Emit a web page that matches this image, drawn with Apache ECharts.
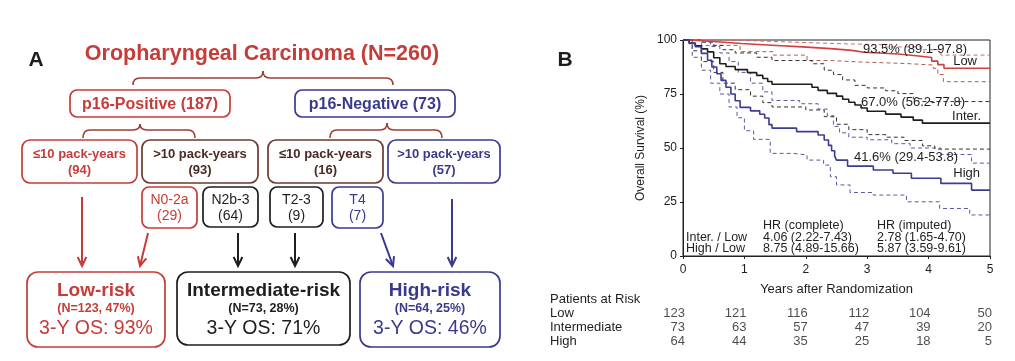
<!DOCTYPE html>
<html><head><meta charset="utf-8">
<script src="https://cdn.jsdelivr.net/npm/echarts@6/dist/echarts.min.js"></script>
<style>html,body{margin:0;padding:0;background:#fff}#c{width:1015px;height:361px}</style>
</head><body><div id="c"></div>
<script>
// ---------- Panel A texts ----------
const panelLabels = ['A', 'B'];
const titleText = 'Oropharyngeal Carcinoma (N=260)';
const level1 = ['p16-Positive (187)', 'p16-Negative (73)'];
const level2 = [['≤10 pack-years', '(94)'], ['>10 pack-years', '(93)'], ['≤10 pack-years', '(16)'], ['>10 pack-years', '(57)']];
const level3 = [['N0-2a', '(29)'], ['N2b-3', '(64)'], ['T2-3', '(9)'], ['T4', '(7)']];
const riskGroups = ['Low-risk', 'Intermediate-risk', 'High-risk'];
const riskN = ['(N=123, 47%)', '(N=73, 28%)', '(N=64, 25%)'];
const riskOS = ['3-Y OS: 93%', '3-Y OS: 71%', '3-Y OS: 46%'];

// ---------- Panel B data ----------
const xTicks = [0, 1, 2, 3, 4, 5];
const yTicks = [0, 25, 50, 75, 100];
const lowKM = [[0,100],[0.12,99.2],[0.55,98.4],[0.95,97.6],[1.45,96.8],[1.95,96.0],[2.4,95.2],[2.75,94.3],[2.95,93.5],[3.5,92.7],[3.8,91.9],[4.05,90.2],[4.15,88.6],[4.25,86.9],[5,86.9]];
const lowUpper = [[0,100],[0.6,99.6],[1.2,99.1],[1.7,98.6],[2.2,98.2],[2.7,97.8],[3.3,96.8],[3.9,95.5],[4.2,93.0],[5,93.0]];
const lowLower = [[0,100],[0.3,97.5],[0.93,94.6],[1.47,93.0],[2.02,90.5],[2.4,89.8],[2.9,89.1],[3.64,88.4],[4.08,86.9],[4.15,84.0],[4.24,80.7],[5,80.7]];
const interKM = [[0,100],[0.1,98.6],[0.2,97.3],[0.3,95.9],[0.4,94.5],[0.5,91.8],[0.6,89.0],[0.7,87.7],[0.85,86.3],[1.05,84.9],[1.2,83.6],[1.3,82.2],[1.38,80.8],[1.45,79.5],[2.1,78.1],[2.2,76.7],[2.35,75.3],[2.5,74.0],[2.6,72.6],[2.7,71.2],[2.8,69.9],[2.9,68.5],[3.0,67.0],[3.3,65.7],[3.55,64.3],[3.75,62.9],[3.9,61.5],[5,61.5]];
const interUpper = [[0,100],[0.3,99.0],[0.5,97.5],[0.65,95.5],[0.85,94.0],[1.2,92.0],[1.45,90.5],[2.1,89.0],[2.3,86.0],[2.45,84.0],[2.6,81.5],[2.8,79.0],[3.0,77.8],[3.3,76.5],[3.5,75.2],[3.75,72.8],[3.9,71.5],[5,71.5]];
const interLower = [[0,100],[0.15,95],[0.3,90],[0.5,85],[0.65,80],[0.85,77],[1.1,74],[1.3,71],[1.45,69],[2.0,67.6],[2.3,64.5],[2.5,61],[2.7,58.5],[3.0,56.2],[3.3,55],[3.6,53.5],[3.9,51],[4.1,49.5],[5,49.5]];
const highKM = [[0,100],[0.1,98.4],[0.2,96.9],[0.3,93.8],[0.4,90.6],[0.47,87.5],[0.55,84.4],[0.62,81.3],[0.7,78.1],[0.78,75.0],[0.85,71.9],[0.93,68.8],[1.1,67.2],[1.25,65.6],[1.33,63.9],[1.4,60.8],[1.45,59.2],[1.85,57.6],[2.2,56.0],[2.3,53.7],[2.37,51.2],[2.42,48.7],[2.47,46.2],[2.5,44.4],[2.68,41.6],[3.1,39.8],[3.42,38.3],[3.72,36.0],[4.2,33.6],[4.7,30.5],[5,30.5]];
const highUpper = [[0,100],[0.3,99],[0.45,97],[0.6,94],[0.75,90],[0.9,85],[1.1,80],[1.3,76],[1.45,72],[1.9,70.5],[2.2,68],[2.35,65],[2.45,60],[2.55,57],[2.7,55],[3.0,53.8],[3.4,52],[3.7,50],[4.2,47],[4.7,43],[5,43]];
const highLower = [[0,100],[0.15,92],[0.3,86],[0.45,80],[0.6,75],[0.75,69],[0.88,64],[1.0,58],[1.15,54],[1.42,47.5],[1.8,46.8],[2.02,44.4],[2.29,42.1],[2.4,36.7],[2.5,32.9],[2.72,29.4],[3.1,28.2],[3.64,25.1],[4.18,22],[4.67,19],[5,19]];
const curveLabels = [['93.5% (89.1-97.8)', 'Low'], ['67.0% (56.2-77.8)', 'Inter.'], ['41.6% (29.4-53.8)', 'High']];
const hrHeader = ['HR (complete)', 'HR (imputed)'];
const hrRows = [['Inter. / Low', '4.06 (2.22-7.43)', '2.78 (1.65-4.70)'], ['High / Low', '8.75 (4.89-15.66)', '5.87 (3.59-9.61)']];
const atRiskTitle = 'Patients at Risk';
const atRiskYears = [0, 1, 2, 3, 4, 5];
const riskRows = ['Low', 'Intermediate', 'High'];
const atRiskLow = [123, 121, 116, 112, 104, 50];
const atRiskInter = [73, 63, 57, 47, 39, 20];
const atRiskHigh = [64, 44, 35, 25, 18, 5];
const axisNames = ['Years after Randomization', 'Overall Survival (%)'];

// ---------- styles ----------
const RED = '#c63c38', BLUE = '#3a3a8c', DARK = '#1e1e1e', BROWN = '#4a2a22', BROWNB = '#6b3a2e', BRACE = '#9c3e34';
const FF = '"Liberation Sans", Arial, sans-serif';

function txt(x, y, text, size, color, weight, align) {
  align = align || 'center';
  return { type: 'text', x: x, y: y, z: 20, silent: true,
    style: { text: text, fontSize: size, fontWeight: weight || 'normal', fontFamily: FF, fill: color,
      align: align, verticalAlign: 'middle', textAlign: align, textVerticalAlign: 'middle' } };
}
function box(x, y, w, h, color, r) {
  return { type: 'rect', z: 10, silent: true, shape: { x: x, y: y, width: w, height: h, r: r || 8 },
    style: { fill: '#fff', stroke: color, lineWidth: 1.7 } };
}
function arrow(x1, y1, x2, y2, color) {
  const a = Math.atan2(y2 - y1, x2 - x1), L = 10, s = 0.45;
  return [
    { type: 'line', z: 10, silent: true, shape: { x1: x1, y1: y1, x2: x2, y2: y2 }, style: { stroke: color, lineWidth: 2 } },
    { type: 'polyline', z: 10, silent: true, shape: { points: [
      [x2 - L * Math.cos(a - s), y2 - L * Math.sin(a - s)], [x2, y2], [x2 - L * Math.cos(a + s), y2 - L * Math.sin(a + s)]] },
      style: { stroke: color, lineWidth: 2, fill: null } }
  ];
}
function brace(x1, x2, cx, yb, yp, ye, color) {
  const st = { stroke: color, lineWidth: 1.6, fill: null };
  const r = 7;
  const mk = (sh) => ({ type: 'bezierCurve', z: 10, silent: true, shape: sh, style: st });
  return [
    mk({ x1: x1, y1: ye, cpx1: x1, cpy1: yb, x2: x1 + r, y2: yb }),
    { type: 'line', z: 10, silent: true, shape: { x1: x1 + r, y1: yb, x2: cx - r, y2: yb }, style: st },
    mk({ x1: cx - r, y1: yb, cpx1: cx, cpy1: yb, x2: cx, y2: yp }),
    mk({ x1: cx, y1: yp, cpx1: cx, cpy1: yb, x2: cx + r, y2: yb }),
    { type: 'line', z: 10, silent: true, shape: { x1: cx + r, y1: yb, x2: x2 - r, y2: yb }, style: st },
    mk({ x1: x2 - r, y1: yb, cpx1: x2, cpy1: yb, x2: x2, y2: ye })
  ];
}

const G = [];
// Panel labels
G.push(txt(36, 60, panelLabels[0], 21, DARK, 'bold'));
G.push(txt(565, 60, panelLabels[1], 21, DARK, 'bold'));
// Title + braces
G.push(txt(262, 54, titleText, 21.5, RED, 'bold'));
G.push(...brace(133, 393, 263, 78, 71, 85, BRACE));
// Level 1
const l1Box = [[70, 90, 160, 27, RED], [295, 90, 160, 27, BLUE]];
level1.forEach((t, i) => { const b = l1Box[i]; G.push(box(b[0], b[1], b[2], b[3], b[4], 7)); G.push(txt(b[0] + b[2] / 2, b[1] + b[3] / 2 + 1, t, 16, b[4], 'bold')); });
G.push(...brace(83, 195, 140, 130, 124, 138, BRACE));
G.push(...brace(330, 442, 387, 130, 123, 138, BRACE));
// Level 2
const l2Box = [[22, 140, 115, 43, RED, RED], [142, 140, 116, 43, BROWNB, BROWN], [268, 140, 115, 43, BROWNB, BROWN], [388, 140, 112, 43, BLUE, BLUE]];
level2.forEach((t, i) => { const b = l2Box[i]; G.push(box(b[0], b[1], b[2], b[3], b[4], 8));
  G.push(txt(b[0] + b[2] / 2, 154, t[0], 13, b[5], 'bold')); G.push(txt(b[0] + b[2] / 2, 170, t[1], 13, b[5], 'bold')); });
// Level 3
const l3Box = [[142, 187, 55, 41, RED], [203, 187, 55, 40, DARK], [270, 187, 53, 40, DARK], [332, 187, 51, 41, BLUE]];
level3.forEach((t, i) => { const b = l3Box[i]; G.push(box(b[0], b[1], b[2], b[3], b[4], 7));
  G.push(txt(b[0] + b[2] / 2, 200, t[0], 14, b[4])); G.push(txt(b[0] + b[2] / 2, 216, t[1], 14, b[4])); });
// Arrows
G.push(...arrow(82, 197, 82, 266, RED));
G.push(...arrow(148, 233, 140, 266, RED));
G.push(...arrow(238, 233, 238, 266, DARK));
G.push(...arrow(295, 233, 295, 266, DARK));
G.push(...arrow(381, 233, 393, 266, BLUE));
G.push(...arrow(452, 199, 452, 266, BLUE));
// Risk boxes
const rBox = [[27, 272, 138, 75, RED], [177, 272, 173, 73, DARK], [360, 272, 140, 75, BLUE]];
riskGroups.forEach((t, i) => { const b = rBox[i]; const cx = b[0] + b[2] / 2; G.push(box(b[0], b[1], b[2], b[3], b[4], 11));
  G.push(txt(cx, 291, t, 19, b[4], 'bold')); G.push(txt(cx, 309, riskN[i], 12.5, b[4], 'bold')); G.push(txt(cx, 329, riskOS[i], 19.5, b[4])); });

// Panel B texts
const clPos = [[967, 49, 977, 61], [965, 102, 981, 116], [958, 157, 980, 173]];
curveLabels.forEach((c, i) => { const p = clPos[i]; G.push(txt(p[0], p[1], c[0], 13, DARK, 'normal', 'right')); G.push(txt(p[2], p[3], c[1], 13, DARK, 'normal', 'right')); });
G.push(txt(763, 226, hrHeader[0], 12.5, DARK, 'normal', 'left'));
G.push(txt(877, 226, hrHeader[1], 12.5, DARK, 'normal', 'left'));
hrRows.forEach((r, i) => { const y = 238 + i * 11; G.push(txt(686, y, r[0], 12.5, DARK, 'normal', 'left')); G.push(txt(763, y, r[1], 12.5, DARK, 'normal', 'left')); G.push(txt(877, y, r[2], 12.5, DARK, 'normal', 'left')); });
G.push(txt(550, 299, atRiskTitle, 13, DARK, 'normal', 'left'));

// ---------- series ----------
function km(data, color, width, dashed) {
  return { type: 'line', step: 'end', data: data, symbol: 'none', xAxisIndex: 0, yAxisIndex: 0, silent: true,
    lineStyle: { color: color, width: width, type: dashed ? [4, 3] : 'solid' }, z: dashed ? 3 : 4 };
}
const series = [
  km(lowUpper, '#d06a6a', 1, true), km(lowLower, '#b05a55', 1, true),
  km(interUpper, '#333', 1, true), km(interLower, '#333', 1, true),
  km(highUpper, '#5a5aa0', 1, true), km(highLower, '#5a5aa0', 1, true),
  km(lowKM, '#d23f3f', 1.6), km(interKM, '#1e1e1e', 1.6), km(highKM, '#3c3c92', 1.6)
];
[atRiskLow, atRiskInter, atRiskHigh].forEach((arr, r) => {
  series.push({ type: 'scatter', xAxisIndex: 1, yAxisIndex: 1, silent: true, symbolSize: 2, itemStyle: { color: 'rgba(0,0,0,0)' },
    data: atRiskYears.map((t, i) => [t, riskRows[r], arr[i]]),
    label: { show: true, position: 'inside', align: 'right', offset: [2, 0], formatter: p => String(p.value[2]),
      fontSize: 13, fontFamily: FF, color: DARK } });
});

const chart = echarts.init(document.getElementById('c'), null, { renderer: 'canvas' });
chart.setOption({
  animation: false,
  backgroundColor: '#fff',
  textStyle: { fontFamily: FF },
  grid: [
    { left: 683, top: 40, width: 307, height: 216, show: true, borderColor: '#222', borderWidth: 1, backgroundColor: 'transparent' },
    { left: 683, top: 306, width: 307, height: 42, show: false }
  ],
  xAxis: [
    { type: 'value', gridIndex: 0, min: 0, max: 5, interval: 1, splitLine: { show: false },
      axisLine: { show: true, lineStyle: { color: '#222' } }, axisTick: { show: true, length: 3, lineStyle: { color: '#222' } },
      axisLabel: { fontSize: 12, color: DARK, margin: 8, fontFamily: FF, formatter: v => xTicks.includes(v) ? String(v) : '' },
      name: axisNames[0], nameLocation: 'middle', nameGap: 27, nameTextStyle: { fontSize: 13, color: DARK, fontFamily: FF } },
    { type: 'value', gridIndex: 1, min: 0, max: 5, interval: 1, axisLine: { show: false }, axisTick: { show: false }, axisLabel: { show: false }, splitLine: { show: false } }
  ],
  yAxis: [
    { type: 'value', gridIndex: 0, min: 0, max: 100, interval: 25, splitLine: { show: false },
      axisLine: { show: true, lineStyle: { color: '#222' } }, axisTick: { show: true, length: 3, lineStyle: { color: '#222' } },
      axisLabel: { fontSize: 12, color: DARK, margin: 6, fontFamily: FF, formatter: v => yTicks.includes(v) ? String(v) : '' },
      name: axisNames[1], nameLocation: 'middle', nameGap: 36, nameTextStyle: { fontSize: 12, color: DARK, fontFamily: FF } },
    { type: 'category', gridIndex: 1, data: riskRows, inverse: true, axisLine: { show: false }, axisTick: { show: false }, splitLine: { show: false },
      axisLabel: { interval: 0, align: 'left', margin: 133, fontSize: 13, color: DARK, fontFamily: FF } }
  ],
  series: series,
  graphic: { elements: G }
});
</script></body></html>
